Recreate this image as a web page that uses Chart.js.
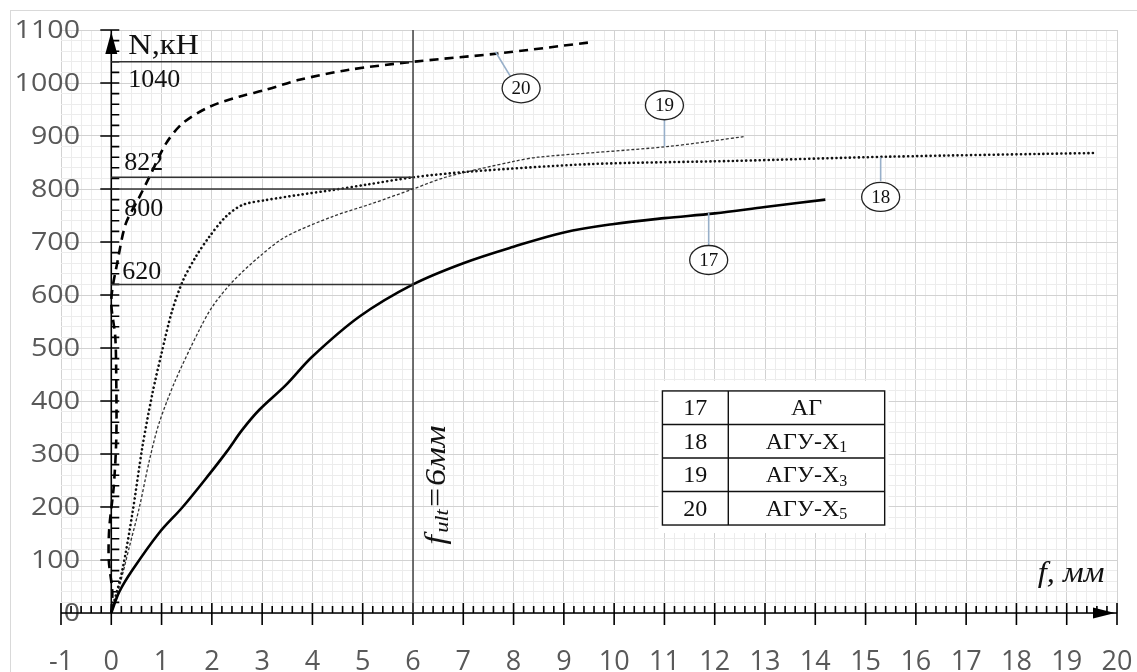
<!DOCTYPE html>
<html>
<head>
<meta charset="utf-8">
<script src="https://cdn.jsdelivr.net/npm/chart.js@4.4.0/dist/chart.umd.min.js"></script>
<style>
html, body { margin: 0; padding: 0; background: #fff; }
#wrap { width: 1137px; height: 672px; position: relative; }
</style>
</head>
<body>
<div id="wrap"><canvas id="myChart"></canvas></div>
<script>
// прогиб f (мм) и нагрузка N (кН) по кривым 17..20
const f17 = [0, 0.16, 0.42, 0.95, 1.42, 1.95, 2.3, 2.6, 2.94, 3.47, 4.0, 4.93, 6.0, 7.0, 8.0, 9.0, 10.0, 11.0, 12.0, 13.0, 14.2]
const n17 = [0, 40, 81, 151, 200, 262, 305, 345, 383, 430, 484, 559, 620, 660, 691, 718, 734, 745, 754, 766, 780]

const f18 = [0, 0.03, 0.22, 0.42, 0.62, 0.82, 1.0, 1.2, 1.42, 1.68, 1.95, 2.28, 2.61, 3.07, 3.74, 4.4, 5.06, 6.0, 7.15, 9.53, 12.38, 15.47, 19.6]
const n18 = [0, 12, 81, 188, 314, 415, 490, 567, 626, 672, 710, 748, 770, 779, 789, 798, 808, 822, 833, 847, 853, 861, 868]

const f19 = [0, 0.16, 0.36, 0.56, 0.76, 0.95, 1.28, 1.75, 2.01, 2.41, 2.94, 3.47, 4.4, 5.2, 6.0, 6.68, 8.0, 8.48, 11.05, 12.6]
const n19 = [0, 50, 125, 200, 289, 358, 440, 534, 578, 625, 672, 710, 748, 773, 800, 823, 852, 860, 880, 899]

const f20 = [0, 0.02, -0.05, -0.04, 0.05, 0.1, 0.1, 0.08, 0.0, 0.13, 0.29, 0.56, 0.76, 1.09, 1.42, 1.95, 2.54, 3.07, 3.74, 4.73, 6.0, 7.72, 9.55]
const n20 = [0, 40, 100, 160, 240, 330, 430, 520, 590, 666, 735, 785, 823, 886, 924, 955, 974, 987, 1006, 1025, 1040, 1056, 1077]

const refLevels = [1040, 822, 800, 620]
const fUlt = 6

const tableIds = ['17', '18', '19', '20']
const tableNames = ['АГ', 'АГУ-Х', 'АГУ-Х', 'АГУ-Х']
const tableSubs = ['', '1', '3', '5']

// выноски с номерами кривых (в координатах графика)
const callouts = [
    { label: '20', cx: 8.15, cy: 990, a: [7.64, 1059], b: [7.94, 1012] },
    { label: '19', cx: 11.0, cy: 958, a: [11.0, 880], b: [11.0, 930] },
    { label: '18', cx: 15.3, cy: 785, a: [15.3, 860], b: [15.3, 815] },
    { label: '17', cx: 11.88, cy: 666, a: [11.88, 755], b: [11.88, 694] }
]

function pts(xs, ys) {
    return xs.map((v, i) => ({ x: v, y: ys[i] }))
}

const near = (v, step) => Math.abs(v / step - Math.round(v / step)) < 1e-6

const refSets = refLevels.map(v => ({
    data: [{ x: 0, y: v }, { x: fUlt, y: v }],
    borderColor: '#333',
    borderWidth: 1.5,
    pointRadius: 0,
    showLine: true
}))

const serif = '"Liberation Serif", "Times New Roman", serif'

// текст с растяжкой по горизонтали
function stretchText(ctx, txt, x, y, sx) {
    ctx.save()
    ctx.translate(x, y)
    ctx.scale(sx, 1)
    ctx.fillText(txt, 0, 0)
    ctx.restore()
}

function drawAxes(chart) {
    const ctx = chart.ctx, xs = chart.scales.x, ys = chart.scales.y
    const x0 = xs.getPixelForValue(0), y0 = ys.getPixelForValue(0)
    const xL = xs.getPixelForValue(-1), xR = xs.getPixelForValue(20)
    const yT = ys.getPixelForValue(1100)
    ctx.save()

    // подписи оси Y (как в Excel)
    ctx.fillStyle = '#595959'
    ctx.font = '26px "Open Sans", sans-serif'
    ctx.textAlign = 'right'
    ctx.textBaseline = 'middle'
    ys.ticks.forEach(t => {
        if (near(t.value, 100)) stretchText(ctx, String(Math.round(t.value)), chart.chartArea.left + 19, ys.getPixelForValue(t.value) + 1, 1.1)
    })

    ctx.strokeStyle = '#000'
    ctx.lineWidth = 1.6
    ctx.beginPath()
    ctx.moveTo(xL, y0); ctx.lineTo(xR, y0)
    ctx.moveTo(x0, y0); ctx.lineTo(x0, yT)
    for (let i = -5; i <= 100; i++) {
        const px = xs.getPixelForValue(i / 5)
        if (i % 5 === 0) { ctx.moveTo(px, y0 - 10); ctx.lineTo(px, y0 + 12) }
        else { ctx.moveTo(px, y0 - 7); ctx.lineTo(px, y0) }
    }
    for (let i = 1; i <= 55; i++) {
        const py = ys.getPixelForValue(i * 20)
        if (i % 5 === 0) { ctx.moveTo(x0 - 11, py); ctx.lineTo(x0 + 8, py) }
        else { ctx.moveTo(x0, py); ctx.lineTo(x0 + 8, py) }
    }
    ctx.stroke()
    ctx.restore()
}

function drawNotes(chart) {
    const ctx = chart.ctx, xs = chart.scales.x, ys = chart.scales.y
    const px = v => xs.getPixelForValue(v)
    const py = v => ys.getPixelForValue(v)
    const x0 = px(0), y0 = py(0), xR = px(20), yT = py(1100)
    ctx.save()

    // стрелки осей
    ctx.fillStyle = '#000'
    ctx.beginPath()
    ctx.moveTo(xR - 2, y0); ctx.lineTo(xR - 24, y0 - 5.5); ctx.lineTo(xR - 24, y0 + 5.5); ctx.closePath()
    ctx.moveTo(x0, yT + 2); ctx.lineTo(x0 - 6, yT + 24); ctx.lineTo(x0 + 6, yT + 24); ctx.closePath()
    ctx.fill()

    ctx.fillStyle = '#111'
    ctx.textBaseline = 'middle'
    ctx.textAlign = 'left'
    ctx.font = '30px ' + serif
    stretchText(ctx, 'N,кН', x0 + 17, yT + 16, 1.08)
    ctx.font = '26px ' + serif
    ctx.fillText('1040', x0 + 17, py(1040) + 18)
    ctx.fillText('822', x0 + 13, py(822) - 14)
    ctx.fillText('800', x0 + 13, py(800) + 20)
    ctx.fillText('620', x0 + 11, py(620) - 12)

    ctx.font = 'italic 29px ' + serif
    ctx.textAlign = 'right'
    stretchText(ctx, 'f, мм', px(19.75), y0 - 39, 1.12)

    // подпись f_ult = 6мм вдоль вертикали
    ctx.save()
    ctx.translate(px(fUlt) + 24, py(0) - 128)
    ctx.rotate(-Math.PI / 2)
    ctx.scale(1.18, 1)
    ctx.textAlign = 'left'
    const big = 'italic 29px ' + serif, small = 'italic 19px ' + serif
    ctx.font = big
    const w1 = ctx.measureText('f').width
    ctx.font = small
    const w2 = ctx.measureText('ult').width
    ctx.font = big
    const w3 = ctx.measureText('=6мм').width
    let sx = -(w1 + w2 + w3 + 2) / 2
    ctx.fillText('f', sx, 0)
    ctx.font = small
    ctx.fillText('ult', sx + w1 + 2, 6)
    ctx.font = big
    ctx.fillText('=6мм', sx + w1 + w2 + 2, 0)
    ctx.restore()

    // выноски
    callouts.forEach(c => {
        ctx.strokeStyle = '#97afc9'
        ctx.lineWidth = 1.6
        ctx.beginPath()
        ctx.moveTo(px(c.a[0]), py(c.a[1]))
        ctx.lineTo(px(c.b[0]), py(c.b[1]))
        ctx.stroke()
        ctx.beginPath()
        ctx.ellipse(px(c.cx), py(c.cy), 19, 14.5, 0, 0, Math.PI * 2)
        ctx.fillStyle = '#fff'
        ctx.fill()
        ctx.strokeStyle = '#222'
        ctx.lineWidth = 1.3
        ctx.stroke()
        ctx.fillStyle = '#111'
        ctx.textAlign = 'center'
        ctx.font = '19px ' + serif
        ctx.fillText(c.label, px(c.cx), py(c.cy) + 1)
    })

    // таблица обозначений
    const tL = px(10.96), tD = px(12.27), tR = px(15.38)
    const tT = py(419), tB = py(166)
    const rowH = (tB - tT) / tableIds.length
    ctx.fillStyle = '#fff'
    ctx.fillRect(tL - 4, tT - 10, tR - tL + 8, tB - tT + 18)
    ctx.strokeStyle = '#111'
    ctx.lineWidth = 1.4
    ctx.strokeRect(tL, tT, tR - tL, tB - tT)
    ctx.beginPath()
    ctx.moveTo(tD, tT); ctx.lineTo(tD, tB)
    for (let i = 1; i < tableIds.length; i++) {
        ctx.moveTo(tL, tT + rowH * i); ctx.lineTo(tR, tT + rowH * i)
    }
    ctx.stroke()
    ctx.fillStyle = '#111'
    tableIds.forEach((id, i) => {
        const cy = tT + rowH * (i + 0.5) + 1
        ctx.font = '24px ' + serif
        ctx.textAlign = 'center'
        ctx.fillText(id, (tL + tD) / 2, cy)
        const nw = ctx.measureText(tableNames[i]).width
        ctx.font = '16px ' + serif
        const sw = tableSubs[i] ? ctx.measureText(tableSubs[i]).width : 0
        const start = (tD + tR) / 2 - (nw + sw) / 2
        ctx.textAlign = 'left'
        ctx.font = '24px ' + serif
        ctx.fillText(tableNames[i], start, cy)
        if (tableSubs[i]) {
            ctx.font = '16px ' + serif
            ctx.fillText(tableSubs[i], start + nw, cy + 6)
        }
    })
    ctx.restore()
}

const overlay = {
    id: 'overlay',
    beforeDraw(chart) {
        const ctx = chart.ctx
        ctx.save()
        ctx.fillStyle = '#fff'
        ctx.fillRect(0, 0, chart.width, chart.height)
        ctx.strokeStyle = '#d9d9d9'
        ctx.lineWidth = 1
        ctx.strokeRect(10.5, 10.5, chart.width + 20, chart.height + 20)
        ctx.restore()
    },
    beforeDatasetsDraw(chart) {
        drawAxes(chart)
    },
    afterDatasetsDraw(chart) {
        drawNotes(chart)
    }
}

const ctx = document.getElementById('myChart')

var myChart = new Chart(ctx, {
    type: 'scatter',
    data: {
        datasets: refSets.concat([
            {
                data: [{ x: fUlt, y: 0 }, { x: fUlt, y: 1100 }],
                borderColor: '#444',
                borderWidth: 1.5,
                pointRadius: 0,
                showLine: true
            },
            {
                label: '17',
                data: pts(f17, n17),
                borderColor: '#000',
                borderWidth: 2.6,
                pointRadius: 0,
                showLine: true,
                tension: 0.35
            },
            {
                label: '18',
                data: pts(f18, n18),
                borderColor: '#111',
                borderWidth: 2.6,
                borderDash: [0.1, 4.4],
                borderCapStyle: 'round',
                pointRadius: 0,
                showLine: true,
                tension: 0.3
            },
            {
                label: '19',
                data: pts(f19, n19),
                borderColor: '#333',
                borderWidth: 1.3,
                borderDash: [3, 2],
                pointRadius: 0,
                showLine: true,
                tension: 0.3
            },
            {
                label: '20',
                data: pts(f20, n20),
                borderColor: '#000',
                borderWidth: 2.6,
                borderDash: [9, 6],
                pointRadius: 0,
                showLine: true,
                tension: 0.3
            }
        ])
    },
    options: {
        responsive: true,
        maintainAspectRatio: false,
        animation: false,
        events: [],
        layout: { padding: { left: 10, top: 30, right: 20, bottom: 0 } },
        plugins: { legend: { display: false }, tooltip: { enabled: false } },
        scales: {
            x: {
                type: 'linear',
                min: -1,
                max: 20,
                afterFit: s => { s.height = 59; s.paddingLeft = 0; s.paddingRight = 0 },
                border: { display: false },
                grid: {
                    drawTicks: false,
                    color: c => near(c.tick.value, 1) ? '#d2d2d2' : '#ececec',
                    lineWidth: 1
                },
                ticks: {
                    stepSize: 0.2,
                    autoSkip: false,
                    maxRotation: 0,
                    padding: 33,
                    color: '#595959',
                    font: { family: '"Open Sans", sans-serif', size: 27 },
                    callback: v => near(v, 1) ? String(Math.round(v)) : ''
                }
            },
            y: {
                min: 0,
                max: 1100,
                afterFit: s => { s.width = 51; s.paddingTop = 0; s.paddingBottom = 0 },
                border: { display: false },
                grid: {
                    drawTicks: false,
                    color: c => near(c.tick.value, 100) ? '#d2d2d2' : '#ececec',
                    lineWidth: 1
                },
                ticks: {
                    stepSize: 20,
                    autoSkip: false,
                    display: false
                }
            }
        }
    },
    plugins: [overlay]
});
</script>
</body>
</html>
